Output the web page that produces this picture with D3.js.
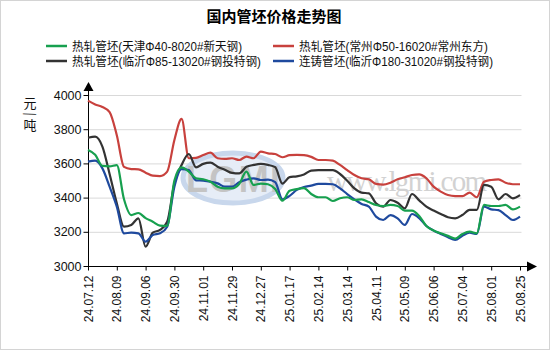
<!DOCTYPE html>
<html><head><meta charset="utf-8">
<script src="https://cdn.jsdelivr.net/npm/d3@7"></script>
<style>
html,body{margin:0;padding:0;background:#fff;}
svg{display:block;}
</style></head>
<body>
<svg id="c" width="550" height="350"></svg>
<script>
const title = "国内管坯价格走势图";
const yLabel = ["元", "/", "吨"];
const tickLabels = ["24.07.12","24.08.09","24.09.06","24.09.30","24.11.01","24.11.29","24.12.27","25.01.17","25.02.14","25.03.14","25.04.11","25.05.09","25.06.06","25.07.04","25.08.01","25.08.25"];
const yTicks = [3000, 3200, 3400, 3600, 3800, 4000];
const pointsPerTick = 4;
const seriesNames = ["热轧管坯(天津Φ40-8020#新天钢)", "热轧管坯(常州Φ50-16020#常州东方)", "热轧管坯(临沂Φ85-13020#钢投特钢)", "连铸管坯(临沂Φ180-31020#钢投特钢)"];
const seriesColors = ["#17a04f", "#c8413d", "#333333", "#1f4a9e"];

const tianjin = [3678,3650,3585,3583,3590,3390,3298,3310,3280,3259,3236,3235,3500,3577,3552,3513,3507,3493,3464,3454,3454,3480,3552,3474,3482,3478,3450,3382,3440,3450,3455,3421,3402,3402,3380,3396,3402,3386,3390,3374,3357,3351,3357,3351,3324,3324,3292,3234,3207,3191,3176,3160,3187,3201,3191,3357,3351,3351,3357,3331,3347];
const changzhou = [3967,3945,3930,3900,3765,3580,3567,3565,3546,3528,3526,3552,3737,3860,3630,3632,3649,3663,3630,3626,3630,3620,3640,3630,3669,3659,3655,3636,3648,3650,3648,3638,3620,3620,3616,3591,3561,3532,3513,3507,3480,3476,3487,3507,3519,3532,3536,3513,3464,3435,3415,3409,3409,3429,3402,3493,3503,3507,3487,3478,3478];
const linyiHot = [3750,3756,3698,3538,3367,3230,3240,3279,3113,3195,3211,3259,3484,3591,3655,3577,3597,3604,3581,3563,3545,3542,3580,3591,3597,3591,3578,3482,3520,3524,3535,3558,3561,3561,3561,3538,3499,3454,3429,3425,3367,3347,3386,3370,3337,3421,3384,3347,3324,3304,3285,3279,3298,3328,3328,3474,3464,3390,3421,3396,3415];
const linyiCast = [3610,3616,3571,3464,3347,3191,3195,3191,3142,3181,3191,3230,3464,3567,3561,3501,3499,3493,3483,3464,3464,3490,3505,3513,3503,3505,3490,3390,3410,3445,3462,3470,3480,3480,3478,3454,3421,3390,3363,3347,3289,3269,3298,3279,3240,3304,3280,3234,3207,3187,3168,3152,3177,3195,3187,3347,3331,3327,3298,3269,3289];

const svg = d3.select("#c");
const W = 550, H = 350;
const m = {left: 88, right: 520, top: 95, bottom: 266};

svg.append("rect").attr("x",0.5).attr("y",0.5).attr("width",W-1).attr("height",H-1)
  .attr("fill","#fff").attr("stroke","#d4d4d4");

const n = (tickLabels.length - 1) * pointsPerTick;
const x = d3.scaleLinear().domain([0, n]).range([m.left, m.right]);
const y = d3.scaleLinear().domain([3000, 4000]).range([m.bottom, m.top]);

// gridlines
svg.append("g").selectAll("line").data(yTicks.filter(d => d > 3000)).join("line")
  .attr("x1", m.left).attr("x2", m.right + 1.5)
  .attr("y1", d => y(d) + 0.5).attr("y2", d => y(d) + 0.5)
  .attr("stroke", "#d9d9d9").attr("stroke-width", 1);

// watermarks
const wm = svg.append("g");
wm.append("ellipse").attr("cx", 233).attr("cy", 178).attr("rx", 50).attr("ry", 25)
  .attr("fill", "#e6edf7").attr("stroke", "#c8d7ec").attr("stroke-width", 5);
wm.append("text").attr("x", 186).attr("y", 192).attr("textLength", 94)
  .attr("font-family", "Liberation Sans, Arial, sans-serif").attr("font-weight", "bold")
  .attr("font-size", 36).attr("fill", "#c4c4c4").text("LGMI");
wm.append("text").attr("x", 327).attr("y", 191).attr("textLength", 160)
  .attr("font-family", "Liberation Serif, Times New Roman, serif")
  .attr("font-size", 29).attr("fill", "#d2d2d2").text("www.lgmi.com");

// axes
const yAxis = d3.axisLeft(y).tickValues(yTicks).tickSize(5).tickPadding(2).tickFormat(d3.format("d"));
const gy = svg.append("g").attr("transform", `translate(${m.left + 0.5},0)`).call(yAxis);
gy.select(".domain").attr("d", `M0,${m.bottom}V${m.top - 6}`).attr("stroke", "#000");
gy.selectAll(".tick line").attr("stroke", "#000");
gy.selectAll("text").attr("font-family", "Liberation Sans, Arial, sans-serif").attr("font-size", 12.5).attr("fill", "#111");

const xAxis = d3.axisBottom(x).tickValues(d3.range(0, n + 1, pointsPerTick)).tickSize(4)
  .tickFormat((d) => tickLabels[d / pointsPerTick]);
const gx = svg.append("g").attr("transform", `translate(0,${m.bottom + 0.5})`).call(xAxis);
gx.select(".domain").attr("d", `M${m.left},0H${m.right + 8}`).attr("stroke", "#000");
gx.selectAll(".tick line").attr("stroke", "#000");
gx.selectAll("text")
  .attr("font-family", "Liberation Sans, Arial, sans-serif").attr("font-size", 12).attr("fill", "#111")
  .attr("text-anchor", "end").attr("dy", null).attr("y", null)
  .attr("transform", "translate(4,9) rotate(-90)");

// arrows
svg.append("path").attr("d", `M${m.left + 0.5},${m.top - 13}L${m.left - 4.5},${m.top - 4}L${m.left + 5.5},${m.top - 4}Z`).attr("fill", "#000");
svg.append("path").attr("d", `M${m.right + 17},${m.bottom + 0.5}L${m.right + 7},${m.bottom - 4.5}L${m.right + 7},${m.bottom + 5.5}Z`).attr("fill", "#000");

// y label
const yl = svg.append("g").attr("font-family", "Noto Sans CJK SC, sans-serif").attr("font-size", 13).attr("fill", "#111");
yl.append("text").attr("x", 30).attr("y", 108).attr("text-anchor", "middle").text(yLabel[0]);
yl.append("text").attr("x", 0).attr("y", 0).attr("text-anchor", "middle")
  .attr("transform", "translate(30,114) rotate(75)").attr("dy", "0.35em").text(yLabel[1]);
yl.append("text").attr("x", 30).attr("y", 130).attr("text-anchor", "middle").text(yLabel[2]);

// lines
const allSeries = [tianjin, changzhou, linyiHot, linyiCast];
const line = d3.line().x((d, i) => x(i)).y(d => y(d)).curve(d3.curveMonotoneX);
const drawOrder = [1, 2, 3, 0];
svg.append("g").selectAll("path").data(drawOrder).join("path")
  .attr("d", k => line(allSeries[k]))
  .attr("fill", "none").attr("stroke", k => seriesColors[k]).attr("stroke-width", 2.2)
  .attr("stroke-linejoin", "round");

// title
svg.append("text").attr("x", 274).attr("y", 22).attr("text-anchor", "middle")
  .attr("font-family", "Noto Sans CJK SC, sans-serif").attr("font-weight", "bold")
  .attr("font-size", 15).attr("fill", "#000").text(title);

// legend
const legPos = [[46, 46], [273, 46], [46, 61], [273, 61]];
const legWidth = [170, 189, 189, 194];
const lg = svg.append("g").selectAll("g").data(seriesNames).join("g")
  .attr("transform", (d, i) => `translate(${legPos[i][0]},${legPos[i][1]})`);
lg.append("line").attr("x1", 0).attr("x2", 21).attr("y1", 0).attr("y2", 0)
  .attr("stroke", (d, i) => seriesColors[i]).attr("stroke-width", 2.5);
lg.append("text").attr("x", 26).attr("y", 4.5)
  .attr("textLength", (d, i) => legWidth[i]).attr("lengthAdjust", "spacingAndGlyphs")
  .attr("font-family", "Liberation Sans, Noto Sans CJK SC, sans-serif").attr("font-size", 12).attr("fill", "#111")
  .text(d => d);
</script>
</body></html>
